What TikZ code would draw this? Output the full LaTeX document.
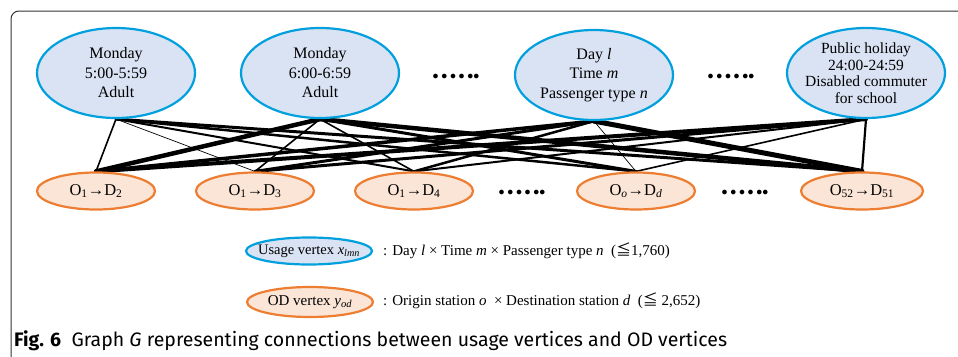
\documentclass[tikz,border=0pt]{standalone}
\usepackage{fontspec}
\setmainfont{Liberation Serif}
\newfontfamily\capfont{Fira Sans}
\newfontfamily\symfont{Noto Sans CJK JP}
\usetikzlibrary{shapes.geometric,backgrounds}
\definecolor{ublue}{RGB}{0,160,222}
\definecolor{ufill}{RGB}{218,227,243}
\definecolor{oorange}{RGB}{237,125,49}
\definecolor{ofill}{RGB}{251,229,214}
\tikzset{
  usage/.style={ellipse, draw=ublue, fill=ufill, line width=2.2pt, inner sep=0pt,
     minimum width=158pt, minimum height=90pt},
  odv/.style={ellipse, draw=oorange, fill=ofill, line width=2.2pt, inner sep=0pt,
     minimum width=118pt, minimum height=37pt, font=\fontsize{16.5}{18}\selectfont},
  txt/.style={align=center, inner sep=0pt, font=\fontsize{16}{19.5}\selectfont},
  dots/.style={font=\fontsize{12}{12}\selectfont, inner sep=0pt},
  lg/.style={font=\fontsize{15}{18}\selectfont, anchor=west, inner sep=0pt},
  ed/.style={draw=black, line cap=round}
}
\begin{document}
\begin{tikzpicture}[x=1pt,y=-1pt]
\useasboundingbox (0,0) rectangle (958,356);
\begin{scope}
\clip (0,0) rectangle (958,356);
\draw[line width=1pt, draw=black!80, rounded corners=8pt] (11,400) -- (11,11) -- (1000,11);
\end{scope}
% usage vertices
\node[usage] (u1) at (116,73) {};
\node[txt] (t1) at (u1) {Monday\\5:00-5:59\\Adult};
\node[usage] (u2) at (320,73) {};
\node[txt] (t2) at (u2) {Monday\\6:00-6:59\\Adult};
\node[usage] (u3) at (594,75) {};
\node[txt] (t3) at (u3) {Day \textit{l}\\Time \textit{m}\\Passenger type \textit{n}};
\node[usage] (u4) at (866,73) {};
\node[txt, font=\fontsize{15.5}{16.5}\selectfont] (t4) at (u4) {Public holiday\\24:00-24:59\\Disabled commuter\\for school};
\node[dots] (d1) at (456,77) {$\bullet\bullet\bullet\bullet\bullet\bullet$};
\node[dots] (d2) at (731,77) {$\bullet\bullet\bullet\bullet\bullet\bullet$};
% OD vertices
\node[odv] (b1) at (96,191) {O\textsubscript{1}→D\textsubscript{2}};
\node[odv] (b2) at (255,191) {O\textsubscript{1}→D\textsubscript{3}};
\node[odv] (b3) at (414,191) {O\textsubscript{1}→D\textsubscript{4}};
\node[odv] (b4) at (636,191) {O\textsubscript{\textit{o}}→D\textsubscript{\textit{d}}};
\node[odv, minimum width=122pt] (b5) at (862,191) {O\textsubscript{52}→D\textsubscript{51}};
\node[dots] (d3) at (522,193) {$\bullet\bullet\bullet\bullet\bullet\bullet$};
\node[dots] (d4) at (745,193) {$\bullet\bullet\bullet\bullet\bullet\bullet$};
% edges
\begin{scope}[on background layer]
\draw[ed, line width=1.6pt] (u1.south) -- (b1.north);
\draw[ed, line width=0.7pt] (u1.south) -- (b2.north);
\draw[ed, line width=2pt] (u1.south) -- (b3.north);
\draw[ed, line width=2.5pt] (u1.south) -- (b4.north);
\draw[ed, line width=3pt] (u1.south) -- (b5.north);
\draw[ed, line width=4.5pt] (u2.south) -- (b1.north);
\draw[ed, line width=1.6pt] (u2.south) -- (b2.north);
\draw[ed, line width=1.6pt] (u2.south) -- (b3.north);
\draw[ed, line width=3pt] (u2.south) -- (b4.north);
\draw[ed, line width=4.5pt] (u2.south) -- (b5.north);
\draw[ed, line width=3.5pt] (u3.south) -- (b1.north);
\draw[ed, line width=3pt] (u3.south) -- (b2.north);
\draw[ed, line width=2.5pt] (u3.south) -- (b3.north);
\draw[ed, line width=0.7pt] (u3.south) -- (b4.north);
\draw[ed, line width=5pt] (u3.south) -- (b5.north);
\draw[ed, line width=4pt] (u4.south) -- (b1.north);
\draw[ed, line width=3pt] (u4.south) -- (b2.north);
\draw[ed, line width=2pt] (u4.south) -- (b3.north);
\draw[ed, line width=1.6pt] (u4.south) -- (b4.north);
\draw[ed, line width=2.2pt] (u4.south) -- (b5.north);
\end{scope}
% legend
\node[usage, minimum width=126pt, minimum height=27pt] (lu) at (309,251) {};
\node[txt, font=\fontsize{14.5}{16}\selectfont] (ltu) at (lu) {Usage vertex \textit{x}\textsubscript{\textit{lmn}}};
\node[odv, minimum width=126pt, minimum height=30pt] (lo) at (310,302) {};
\node[txt, font=\fontsize{15}{16}\selectfont] (lto) at (lo) {OD vertex \textit{y}\textsubscript{\textit{od}}};
\node[lg] (tu) at (383,251) {: Day \textit{l} × Time \textit{m} × Passenger type \textit{n}\ \ ({\symfont ≦}1,760)};
\node[lg] (to) at (383,301) {: Origin station \textit{o}\ \ × Destination station \textit{d}\ \ ({\symfont ≦} 2,652)};
% caption
\node[anchor=base west, inner sep=0pt, font=\capfont\fontsize{19.5}{22}\selectfont] (cap) at (14,346) {\textbf{Fig. 6}\ \ Graph \textit{G} representing connections between usage vertices and OD vertices};
\end{tikzpicture}
\end{document}
